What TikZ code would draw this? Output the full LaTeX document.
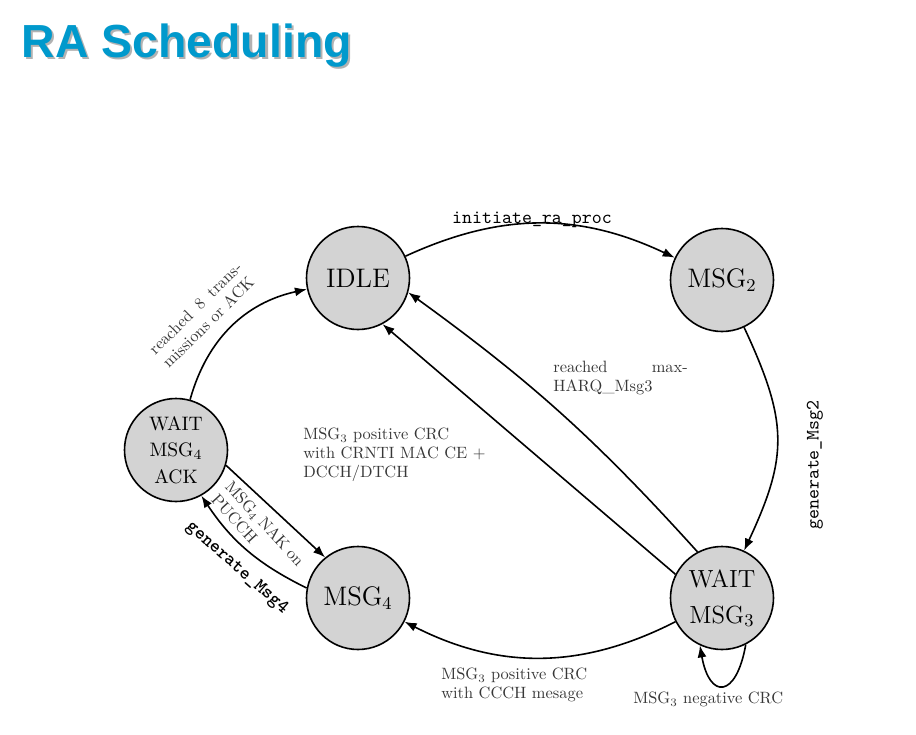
\documentclass[tikz,border=0pt]{standalone}
\usepackage{fontspec}
\newfontfamily\titlefont{Liberation Sans}
\usetikzlibrary{arrows.meta}
\definecolor{stfill}{RGB}{211,211,211}
\definecolor{titleblue}{RGB}{0,153,204}
\definecolor{labelgray}{RGB}{55,55,55}
\begin{document}
\begin{tikzpicture}[x=0.5pt,y=0.5pt,
  st/.style={circle, draw, line width=0.8pt, fill=stfill, minimum size=51.5pt, inner sep=0pt, align=center},
  tr/.style={line width=0.8pt, -{Latex[length=6pt,width=4.5pt]}},
  lbl/.style={font=\fontsize{10}{11.6}\selectfont, scale=0.82, transform shape, text=labelgray, inner sep=0pt, align=left},
  ttl/.style={font=\fontsize{9.5}{11}\selectfont\ttfamily, inner sep=0pt}]
\useasboundingbox (0,0) rectangle (916,-734);
% title
\node[anchor=base west, font=\titlefont\bfseries\fontsize{23.2}{28}\selectfont, text=black!30, inner sep=0pt] (tshadow) at (23.5,-59) {RA Scheduling};
\node[anchor=base west, font=\titlefont\bfseries\fontsize{23.2}{28}\selectfont, text=titleblue, inner sep=0pt] (title) at (21.5,-57) {RA Scheduling};
% states
\node[st, font=\fontsize{13.4}{16}\selectfont] (idle) at (358,-278) {IDLE};
\node[st, font=\fontsize{13.4}{16}\selectfont] (msg2) at (722,-280) {MSG$_2$};
\node[st, font=\fontsize{12.4}{18}\selectfont] (w3) at (722,-598) {WAIT\\MSG$_3$};
\node[st, font=\fontsize{9.75}{13.2}\selectfont] (w4) at (176,-450) {WAIT\\MSG$_4$\\ACK};
\node[st, font=\fontsize{13.4}{16}\selectfont] (msg4) at (358,-598) {MSG$_4$};
% transitions
\draw[tr] (idle) to[bend left=25] (msg2);
\draw[tr] (msg2) to[out=-65, in=65, looseness=1.2] (w3);
\draw[tr] (w3.118) to[bend right=6] (idle.-16);
\draw[tr] (w3.153) -- (idle.-62);
\draw[tr] (w3) to[bend left=27] (msg4);
\draw[tr] (w4.-17) -- (msg4.129);
\draw[tr] (msg4.169) to[bend left=15] (w4.-61);
\draw[tr] (w4) to[bend left=31] (idle);
\draw[tr] (w3.-63) .. controls +(-100:55) and +(-80:55) .. (w3.-115);
% labels
\node[ttl, anchor=base] (l1) at (532,-223) {initiate\_ra\_proc};
\node[ttl, rotate=90] (l2) at (815,-465) {generate\_Msg2};
\node[ttl, font=\fontsize{9.5}{11}\selectfont\ttfamily\bfseries, rotate=-41.4] (l3) at (237,-568) {generate\_Msg4};
\node[lbl, rotate=44.7, text width=75pt] (l4) at (202,-315) {reached\hfill 8\hfill trans-\\missions or ACK};
\node[lbl, rotate=-47.6, text width=66pt] (l5) at (258,-530) {MSG$_4$\hfill NAK\hfill on\\PUCCH};
\node[lbl, anchor=north west, text width=82pt] (l6) at (553,-361) {reached\hfill max-\\HARQ\_Msg3};
\node[lbl, anchor=north west] (l7) at (303,-428) {MSG$_3$ positive CRC\\with CRNTI MAC CE +\\DCCH/DTCH};
\node[lbl, anchor=north west] (l8) at (441,-668) {MSG$_3$ positive CRC\\with CCCH mesage};
\node[lbl, anchor=north west] (l9) at (633,-692) {MSG$_3$ negative CRC};
\end{tikzpicture}
\end{document}
